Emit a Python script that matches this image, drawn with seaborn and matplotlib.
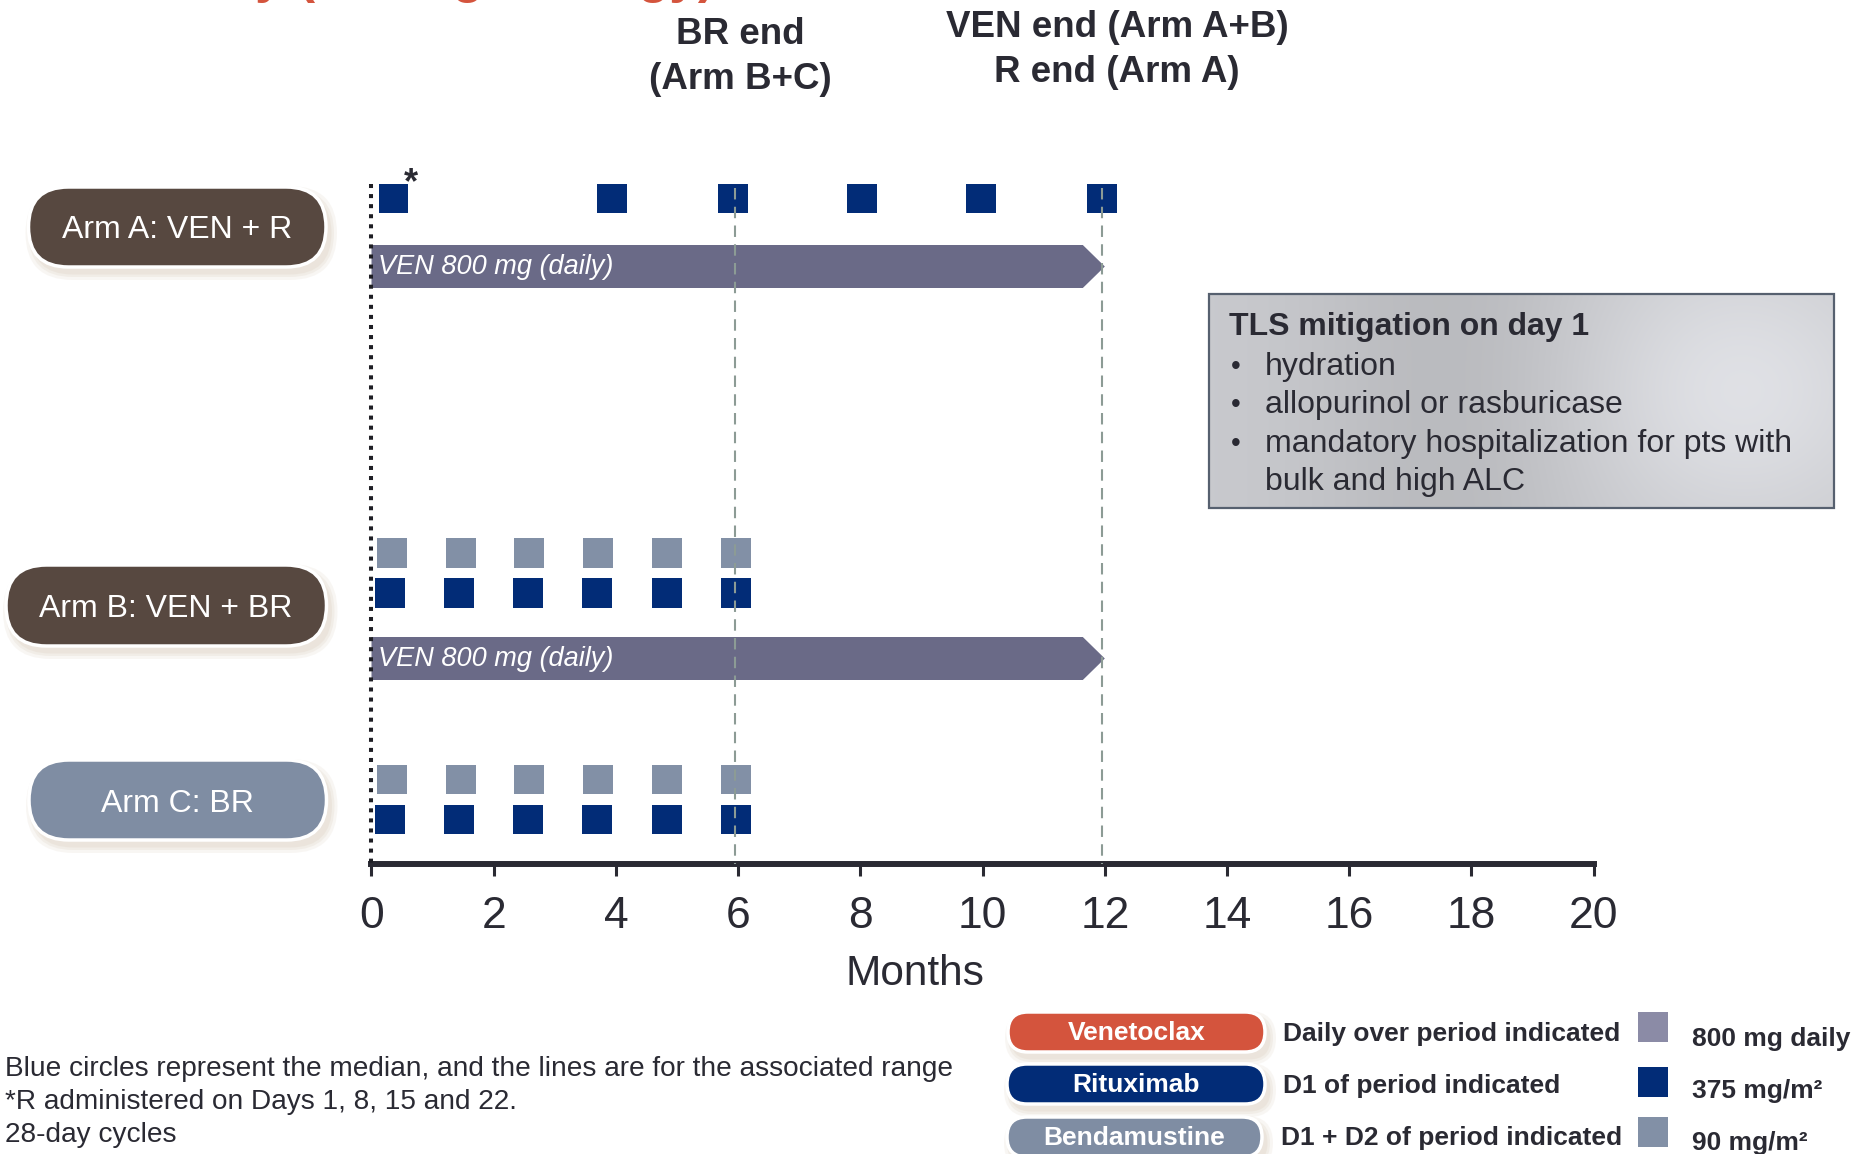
import numpy as np
import pandas as pd
import seaborn as sns
import matplotlib
matplotlib.use("Agg")
import matplotlib.pyplot as plt
from matplotlib import font_manager
from matplotlib.patches import FancyBboxPatch, Polygon, Rectangle

# ---------------- data ----------------
month_ticks = [0, 2, 4, 6, 8, 10, 12, 14, 16, 18, 20]
arm_labels = ["Arm A: VEN + R", "Arm B: VEN + BR", "Arm C: BR"]
arm_a_rituximab = [0.36, 3.94, 5.92, 8.03, 9.98, 11.96]
arm_b_bendamustine = [0.34, 1.46, 2.58, 3.71, 4.83, 5.96]
arm_b_rituximab = [0.31, 1.43, 2.56, 3.69, 4.84, 5.96]
arm_c_bendamustine = [0.34, 1.46, 2.58, 3.71, 4.83, 5.96]
arm_c_rituximab = [0.31, 1.43, 2.56, 3.69, 4.84, 5.96]
ven_period = [0, 12]          # months, Arm A and Arm B
br_end_month = 6
ven_end_month = 12
ven_label = "VEN 800 mg (daily)"
br_end_text = ["BR end", "(Arm B+C)"]
ven_end_text = ["VEN end (Arm A+B)", "R end (Arm A)"]
drug_names = ["Venetoclax", "Rituximab", "Bendamustine"]
drug_schedule = ["Daily over period indicated", "D1 of period indicated",
                 "D1 + D2 of period indicated"]
drug_doses = ["800 mg daily", "375 mg/m²", "90 mg/m²"]
tls_title = "TLS mitigation on day 1"
tls_items = ["hydration", "allopurinol or rasburicase",
             "mandatory hospitalization for pts with", "bulk and high ALC"]
footnotes = ["Blue circles represent the median, and the lines are for the associated range",
             "*R administered on Days 1, 8, 15 and 22.",
             "28-day cycles"]
title_text = "Study (dosing strategy)"

# ---------------- style ----------------
NAVY = "#022c77"
BENDA = "#8290a6"
VEN_BAR = "#6a6a87"
VEN_SW = "#8b8ba6"
BROWN = "#574840"
SLATE = "#7f8da3"
RED = "#d4543d"
DARK = "#2a2a33"
GUIDE = "#8c9b95"

sns.set_theme(style="white")
names = {f.name for f in font_manager.fontManager.ttflist}
HAS_NARROW = "Liberation Sans Narrow" in names
NARROW = "Liberation Sans Narrow" if HAS_NARROW else "Liberation Sans"
plt.rcParams["font.family"] = ["Liberation Sans", "DejaVu Sans"]

W, H = 1858, 1154
fig = plt.figure(figsize=(W / 100, H / 100), dpi=100)
fig.patch.set_facecolor("white")

# pixel frame for months 0..20 and the timeline rows
X0, X1 = 371.5, 1593.7
Y_TOP, Y_AXIS = 150, 864
ax = fig.add_axes([X0 / W, 1 - Y_AXIS / H, (X1 - X0) / W, (Y_AXIS - Y_TOP) / H])
ax.set_xlim(0, 20)
ax.set_ylim(Y_AXIS, Y_TOP)
ax.patch.set_visible(False)

row_y = {"A_R": 198.5, "A_VEN": 266.5, "B_B": 553, "B_R": 593, "B_VEN": 658.5,
         "C_B": 779.5, "C_R": 819.5}

rows = []
for m in arm_a_rituximab:
    rows.append((m, row_y["A_R"], "Rituximab"))
for m in arm_b_bendamustine:
    rows.append((m, row_y["B_B"], "Bendamustine"))
for m in arm_b_rituximab:
    rows.append((m, row_y["B_R"], "Rituximab"))
for m in arm_c_bendamustine:
    rows.append((m, row_y["C_B"], "Bendamustine"))
for m in arm_c_rituximab:
    rows.append((m, row_y["C_R"], "Rituximab"))
doses = pd.DataFrame(rows, columns=["month", "row", "drug"])

sns.scatterplot(data=doses, x="month", y="row", hue="drug",
                palette={"Rituximab": NAVY, "Bendamustine": BENDA},
                marker="s", s=466, linewidth=0, legend=False, ax=ax,
                clip_on=False, zorder=3)

# venetoclax daily dosing arrows
tip = 0.36
half_h = 21.5
for key in ["A_VEN", "B_VEN"]:
    yc = row_y[key]
    s0, s1 = ven_period
    ax.add_patch(Polygon([(s0, yc - half_h), (s1 - tip, yc - half_h), (s1, yc),
                          (s1 - tip, yc + half_h), (s0, yc + half_h)],
                         closed=True, fc=VEN_BAR, ec="none", zorder=2))
    ax.text(s0 + 0.1, yc + 1, ven_label, color="white", fontstyle="italic",
            family=NARROW, fontsize=23 if HAS_NARROW else 19.5,
            va="center", ha="left", zorder=4)

# guide lines
ax.plot([0, 0], [184, Y_AXIS], color="#1e1e24", lw=2.9, ls=(0, (1.0, 1.5)),
        solid_capstyle="butt", zorder=5, clip_on=False)
for m in [br_end_month, ven_end_month]:
    ax.plot([m - 0.05, m - 0.05], [188, Y_AXIS], color=GUIDE, lw=1.5,
            ls=(0, (5.5, 3.5)), zorder=5, clip_on=False)

sns.despine(ax=ax, left=True, top=True, right=True)
ax.spines["bottom"].set_linewidth(4.3)
ax.spines["bottom"].set_color(DARK)
ax.set_xticks(month_ticks)
ax.set_xticklabels([str(t) for t in month_ticks])
ax.set_yticks([])
ax.tick_params(axis="x", direction="out", length=8.6, width=2.2, color=DARK,
               labelsize=32, labelcolor=DARK, pad=14.5, bottom=True)
ax.set_xlabel("")
ax.set_ylabel("")

# ---------------- overlay in pixel units ----------------
ov = fig.add_axes([0, 0, 1, 1])
ov.set_xlim(0, W)
ov.set_ylim(H, 0)
ov.axis("off")
ov.patch.set_visible(False)


def pill(x0, y0, x1, y1, color, text, tx, ty, size, family, weight="normal"):
    h = y1 - y0
    for grow, a in [(7, 0.25), (4, 0.35), (1.5, 0.5)]:
        ov.add_patch(FancyBboxPatch((x0 + 4 - grow, y0 + 6 - grow), x1 - x0 + 2 * grow,
                                    h + 2 * grow,
                                    boxstyle=f"round,pad=0,rounding_size={h / 2 + grow}",
                                    fc="#e6ddd2", ec="none", alpha=a, zorder=1))
    ov.add_patch(FancyBboxPatch((x0, y0), x1 - x0, h,
                                boxstyle=f"round,pad=0,rounding_size={h / 2}",
                                fc=color, ec="white", lw=2.5, zorder=2))
    ov.text(tx, ty, text, color="white", fontsize=size, family=family,
            fontweight=weight, ha="center", va="center", zorder=3)


arm_size = 27 if HAS_NARROW else 23
pill(28.5, 187, 326, 267, BROWN, arm_labels[0], 177, 230.5, arm_size, NARROW)
pill(6, 565, 326.5, 646, BROWN, arm_labels[1], 166, 609, arm_size, NARROW)
pill(29, 760, 326.5, 840, SLATE, arm_labels[2], 177.5, 804, arm_size, NARROW)

# legend
pill(1008, 1012, 1265, 1052, RED, drug_names[0], 1137, 1033, 19, "Liberation Sans", "bold")
pill(1007, 1064, 1265, 1104, NAVY, drug_names[1], 1136, 1085, 19, "Liberation Sans", "bold")
pill(1007, 1117, 1262, 1157, SLATE, drug_names[2], 1134, 1138, 19, "Liberation Sans", "bold")
for i, (desc, ypos) in enumerate(zip(drug_schedule, [1034, 1086, 1138])):
    ov.text(1283 if i < 2 else 1281, ypos, desc, fontsize=19, fontweight="bold",
            color=DARK, ha="left", va="center")
for col, ytop in zip([VEN_SW, NAVY, BENDA], [1012, 1067, 1117]):
    ov.add_patch(Rectangle((1638.5, ytop), 30, 30, fc=col, ec="none"))
for dose, ypos in zip(drug_doses, [1039, 1091, 1143]):
    ov.text(1692, ypos, dose, fontsize=19, fontweight="bold", color=DARK,
            ha="left", va="center")

# TLS box with soft gradient fill
bx0, by0, bx1, by1 = 1209, 294, 1834, 508
gx = np.linspace(0, 1, 400)[None, :]
gy = np.linspace(0, 1, 140)[:, None]
shade = 0.80 - 0.06 * np.exp(-((gx - 0.38) ** 2) / 0.05) \
    + 0.09 * np.exp(-(((gx - 0.85) ** 2) / 0.06 + ((gy - 0.45) ** 2) / 0.4))
shade = shade + 0.0 * gy
rgb = np.stack([shade * 0.985, shade * 0.99, shade * 1.01], axis=-1).clip(0, 1)
ov.imshow(rgb, extent=(bx0, bx1, by1, by0), aspect="auto", zorder=1,
          interpolation="bilinear")
ov.add_patch(Rectangle((bx0, by0), bx1 - bx0, by1 - by0, fc="none",
                       ec="#56606f", lw=1.6, zorder=2))
ov.text(1229, 327, tls_title, fontsize=23, fontweight="bold", color=DARK,
        ha="left", va="center", zorder=3)
for i, (item, ypos) in enumerate(zip(tls_items, [367, 405, 444, 482])):
    if i < 3:
        ov.text(1236, ypos, "•", fontsize=20, color=DARK, ha="center",
                va="center", zorder=3)
    ov.text(1265, ypos, item, fontsize=23, color=DARK, ha="left",
            va="center", zorder=3)

ov.set_xlim(0, W)
ov.set_ylim(H, 0)

# milestone headers
for line, ypos in zip(br_end_text, [34.5, 79.5]):
    ov.text(740, ypos, line, fontsize=26.5, fontweight="bold", color=DARK,
            ha="center", va="center")
for line, ypos in zip(ven_end_text, [27.5, 72.5]):
    ov.text(1117, ypos, line, fontsize=26.5, fontweight="bold", color=DARK,
            ha="center", va="center")

ov.text(411, 184, "*", fontsize=26, fontweight="bold", color=DARK,
        ha="center", va="center")
ov.text(915, 974, "Months", fontsize=30.5, color=DARK, ha="center", va="center")

for line, ypos in zip(footnotes, [1069, 1102, 1135]):
    ov.text(5, ypos, line, fontsize=20.2, color=DARK, ha="left", va="center")

ov.text(715, -8, title_text, fontsize=37, fontweight="bold", color=RED,
        ha="right", va="baseline")

fig.savefig("out.png", dpi=100, facecolor="white")
